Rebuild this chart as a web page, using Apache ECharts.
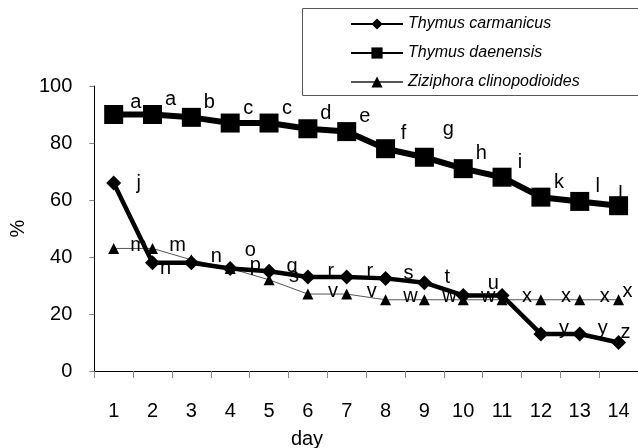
<!DOCTYPE html>
<html>
<head>
<meta charset="utf-8">
<script src="https://cdn.jsdelivr.net/npm/echarts@6/dist/echarts.min.js"></script>
<style>
  html, body { margin: 0; padding: 0; background: #fff; }
  #main { width: 638px; height: 448px; }
</style>
</head>
<body>
<div id="main"></div>
<script>
// days on the x axis
var days = ['1', '2', '3', '4', '5', '6', '7', '8', '9', '10', '11', '12', '13', '14'];
var yTicks = [0, 20, 40, 60, 80, 100];

// % values per day
var carmanicus = [66, 38, 38, 36, 35, 33, 33, 32.5, 31, 26.5, 26.5, 13, 13, 10];
var daenensis = [90, 90, 89, 87, 87, 85, 84, 78, 75, 71, 68, 61, 59.5, 58];
var ziziphora = [43, 43, 39, 36, 32, 27, 27, 25, 25, 25, 25, 25, 25, 25];

// letters written next to the points
var carmanicusLetters = ['j', 'n', '', 'o', 'q', 'r', 'r', 's', 't', 'u', '', 'y', 'y', 'z'];
var daenensisLetters = ['a', 'a', 'b', 'c', 'c', 'd', 'e', 'f', 'g', 'h', 'i', 'k', 'l', 'l'];
var ziziphoraLetters = ['m', 'm', 'n', 'p', 's', 'v', 'v', 'w', 'w', 'w', 'x', 'x', 'x', 'x'];

var FONT = '"Liberation Sans", Arial, sans-serif';

// a few labels sit a little apart from the others
function points(values, letters, shift) {
  return values.map(function (v, i) {
    var item = { value: v, label: { formatter: letters[i] } };
    if (shift[i]) item.label.offset = shift[i];
    return item;
  });
}

var chart = echarts.init(document.getElementById('main'));

var labelBase = {
  show: true,
  position: 'inside',
  color: '#000',
  fontFamily: FONT,
  fontSize: 20,
  textBorderWidth: 0
};

var option = {
  animation: false,
  backgroundColor: '#fff',
  grid: { left: 85, top: 86, width: 558, height: 285 },
  legend: {
    orient: 'vertical',
    left: 350,
    top: 16,
    itemWidth: 52,
    itemHeight: 14,
    itemGap: 13,
    padding: 0,
    z: 5,
    textStyle: { fontFamily: FONT, fontSize: 16, fontStyle: 'italic', color: '#000', lineHeight: 14 },
    data: ['Thymus carmanicus', 'Thymus daenensis', 'Ziziphora clinopodioides']
  },
  graphic: [
    {
      type: 'rect',
      left: 302, top: 8, z: 1,
      shape: { width: 345, height: 87 },
      style: { fill: '#fff', stroke: '#555', lineWidth: 1 }
    },
    {
      type: 'text',
      x: 307, y: 439,
      style: { text: 'day', fontFamily: FONT, fontSize: 20, fill: '#000', align: 'center', verticalAlign: 'middle' }
    }
  ],
  xAxis: {
    type: 'category',
    data: days,
    boundaryGap: true,
    axisLine: { lineStyle: { color: '#000', width: 1 } },
    axisTick: { show: true, length: 7, lineStyle: { color: '#888' } },
    axisLabel: { color: '#000', fontFamily: FONT, fontSize: 20, margin: 30, interval: 0 },
    splitLine: { show: false }
  },
  yAxis: {
    type: 'value',
    min: yTicks[0],
    max: yTicks[yTicks.length - 1],
    interval: 20,
    name: '%',
    nameLocation: 'middle',
    nameGap: 62,
    nameRotate: 90,
    nameTextStyle: { color: '#000', fontFamily: FONT, fontSize: 20 },
    axisLine: { show: true, lineStyle: { color: '#000', width: 1 } },
    axisTick: { show: true, length: 5, lineStyle: { color: '#888' } },
    axisLabel: { color: '#000', fontFamily: FONT, fontSize: 20, margin: 22 },
    splitLine: { show: false }
  },
  series: [
    {
      name: 'Thymus carmanicus',
      type: 'line',
      z: 3,
      symbol: 'diamond',
      symbolSize: 15,
      showAllSymbol: true,
      lineStyle: { color: '#000', width: 4.5 },
      itemStyle: { color: '#000' },
      label: Object.assign({}, labelBase, { offset: [23, -5] }),
      data: points(carmanicus, carmanicusLetters, { 0: [25, 1], 1: [13, 6], 3: [20, -18], 9: [30, -12], 13: [7, -10] })
    },
    {
      name: 'Thymus daenensis',
      type: 'line',
      z: 3,
      symbol: 'rect',
      symbolSize: 19,
      showAllSymbol: true,
      lineStyle: { color: '#000', width: 6 },
      itemStyle: { color: '#000' },
      label: Object.assign({}, labelBase, { offset: [18, -15] }),
      data: points(daenensis, daenensisLetters, { 0: [22, -12], 8: [24, -28], 13: [2, -11] })
    },
    {
      name: 'Ziziphora clinopodioides',
      type: 'line',
      z: 2,
      symbol: 'triangle',
      symbolSize: 11,
      showAllSymbol: true,
      lineStyle: { color: '#555', width: 1 },
      itemStyle: { color: '#000' },
      label: Object.assign({}, labelBase, { offset: [25, -3] }),
      data: points(ziziphora, ziziphoraLetters, { 13: [9, -8] })
    }
  ]
};

chart.setOption(option);
</script>
</body>
</html>
